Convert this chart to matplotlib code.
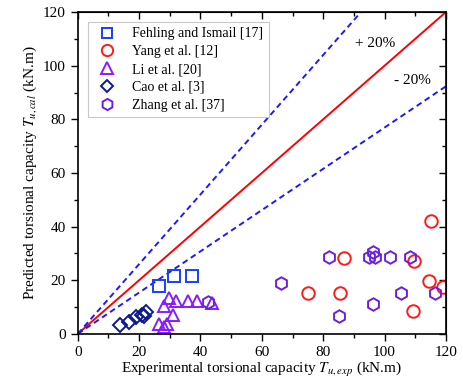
import numpy as np
import matplotlib
matplotlib.use('Agg')
from matplotlib import pyplot as plt
from matplotlib.ticker import MultipleLocator

plt.rcParams['font.family'] = ['Liberation Serif', 'DejaVu Serif']
plt.rcParams['mathtext.fontset'] = 'stix'

# data
fehling_x = [26.5, 31.3, 37.1]
fehling_y = [17.9, 21.6, 21.6]

yang_x = [115.0, 86.7, 109.6, 114.5, 119.1, 75.1, 85.4, 109.3]
yang_y = [42.2, 28.2, 27.0, 19.8, 17.4, 15.2, 15.2, 8.7]

li_x = [29.8, 32.0, 36.0, 39.0, 43.6, 28.0, 31.0, 26.5, 29.1, 28.0]
li_y = [13.3, 12.1, 12.1, 12.1, 11.4, 10.4, 7.1, 3.7, 3.7, 2.5]

cao_x = [13.9, 16.7, 19.1, 20.8, 21.5, 22.2]
cao_y = [3.4, 4.6, 6.2, 7.1, 6.7, 8.3]

zhang_x = [42.5, 66.4, 81.9, 96.1, 95.0, 96.8, 101.7, 108.3, 105.3, 116.4, 96.1, 85.2]
zhang_y = [11.7, 19.1, 28.8, 30.7, 28.6, 28.6, 28.8, 28.8, 15.2, 15.2, 11.2, 6.7]

fig = plt.figure(figsize=(4.63, 3.9), dpi=100)
ax = fig.add_axes([0.168, 0.144, 0.795, 0.825])

x = np.array([0, 120])
ax.plot(x, x, color='red', lw=1.4, zorder=1)
ax.plot(x / 1.3, x, color='#1a1aff', lw=1.4, ls=(0, (3, 2)), zorder=1)
ax.plot(x, x / 1.3, color='#1a1aff', lw=1.4, ls=(0, (3, 2)), zorder=1)

ms = 8
mew = 1.4
ax.plot(fehling_x, fehling_y, 's', ms=ms, mfc='none', mec='#1a3cff', mew=mew, label='Fehling and Ismail [17]')
ax.plot(yang_x, yang_y, 'o', ms=ms + 1, mfc='none', mec='#ff1a1a', mew=mew, label='Yang et al. [12]')
ax.plot(li_x, li_y, '^', ms=ms + 1, mfc='none', mec='#8c1aff', mew=mew, label='Li et al. [20]')
ax.plot(cao_x, cao_y, 'D', ms=ms - 1, mfc='none', mec='#0d1a8c', mew=mew, label='Cao et al. [3]')
ax.plot(zhang_x, zhang_y, 'h', ms=ms + 1, mfc='none', mec='#6a1fe0', mew=mew, label='Zhang et al. [37]')

ax.text(96.8, 108.4, '+ 20%', fontsize=11, ha='center', va='center')
ax.text(109, 94.6, '- 20%', fontsize=11, ha='center', va='center')

ax.set_xlim(0, 120)
ax.set_ylim(0, 120)
ax.xaxis.set_major_locator(MultipleLocator(20))
ax.xaxis.set_minor_locator(MultipleLocator(10))
ax.yaxis.set_major_locator(MultipleLocator(20))
ax.yaxis.set_minor_locator(MultipleLocator(10))
ax.tick_params(which='both', direction='out', labelsize=11, width=1)
ax.tick_params(which='major', length=5)
ax.tick_params(which='minor', length=3)

# mirrored ticks pointing inward
top = ax.secondary_xaxis('top')
top.xaxis.set_major_locator(MultipleLocator(20))
top.xaxis.set_minor_locator(MultipleLocator(10))
top.tick_params(which='both', direction='in', labeltop=False, width=1)
top.tick_params(which='major', length=5)
top.tick_params(which='minor', length=3)
right = ax.secondary_yaxis('right')
right.yaxis.set_major_locator(MultipleLocator(20))
right.yaxis.set_minor_locator(MultipleLocator(10))
right.tick_params(which='both', direction='in', labelright=False, width=1)
right.tick_params(which='major', length=5)
right.tick_params(which='minor', length=3)

for s in ax.spines.values():
    s.set_linewidth(1.2)

ax.set_xlabel('Experimental torsional capacity $T_{u,exp}$ (kN.m)', fontsize=11, labelpad=1)
ax.set_ylabel('Predicted torsional capacity $T_{u,cal}$ (kN.m)', fontsize=11, labelpad=3)

leg = ax.legend(loc='upper left', fontsize=10, frameon=True, fancybox=False,
                edgecolor='#bbbbbb', borderpad=0.4, labelspacing=0.35,
                handletextpad=0.8, borderaxespad=0.7, markerscale=0.9)
leg.get_frame().set_linewidth(0.8)

fig.savefig('out.png', dpi=100)
print("done")
